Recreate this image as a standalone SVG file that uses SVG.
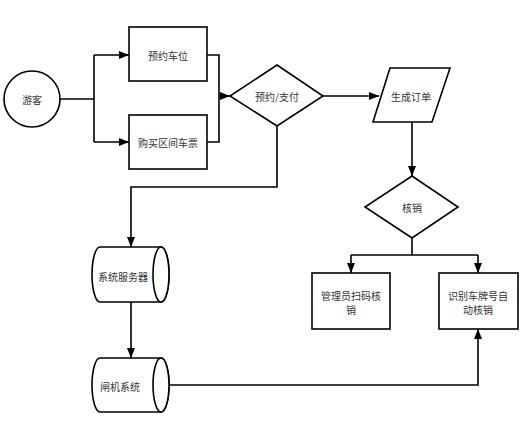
<svg xmlns="http://www.w3.org/2000/svg" width="529" height="443" viewBox="0 0 529 443">
<defs>
<marker id="arr" viewBox="0 0 10 8" refX="10" refY="4" markerWidth="10" markerHeight="8" markerUnits="userSpaceOnUse" orient="auto">
<path d="M0,0 L10,4 L0,8 Z" fill="#000"/>
</marker>
</defs>
<style>
.s{fill:#fff;stroke:#000;stroke-width:1.6}
.c{fill:none;stroke:#000;stroke-width:1.6}
text{font-family:"Noto Sans CJK SC","Noto Sans",sans-serif;font-size:10px;fill:#333;text-anchor:middle;dominant-baseline:central}
</style>
<rect width="529" height="443" fill="#fff"/>
<g id="connectors">
<path class="c" d="M60,99 H94"/>
<path class="c" d="M94,55 V142"/>
<path class="c" d="M94,55 H129" marker-end="url(#arr)"/>
<path class="c" d="M94,142 H129" marker-end="url(#arr)"/>
<path class="c" d="M207,55 H219 V142 H207"/>
<path class="c" d="M219,96 H230" marker-end="url(#arr)"/>
<path class="c" d="M323,96 H379" marker-end="url(#arr)"/>
<path class="c" d="M412,122 V176" marker-end="url(#arr)"/>
<path class="c" d="M412,238 V255"/>
<path class="c" d="M351,255 H478"/>
<path class="c" d="M351,255 V273" marker-end="url(#arr)"/>
<path class="c" d="M478,255 V273" marker-end="url(#arr)"/>
<path class="c" d="M277,126 V187 H131 V247" marker-end="url(#arr)"/>
<path class="c" d="M131,302 V358" marker-end="url(#arr)"/>
<path class="c" d="M169,385 H478 V329" marker-end="url(#arr)"/>
</g>
<g id="youke">
<circle class="s" cx="32" cy="99" r="28"/>
<text x="32" y="99">游客</text>
</g>
<g id="yuyue">
<rect class="s" x="129" y="27" width="78" height="54"/>
<text x="168" y="55">预约车位</text>
</g>
<g id="goumai">
<rect class="s" x="129" y="115" width="78" height="54"/>
<text x="168" y="142">购买区间车票</text>
</g>
<g id="zhifu">
<polygon class="s" points="277,65 323,96 277,126 230,96"/>
<text x="277" y="96">预约/支付</text>
</g>
<g id="dingdan">
<polygon class="s" points="390,68 450,68 432,122 373,122"/>
<text x="411" y="96">生成订单</text>
</g>
<g id="hexiao">
<polygon class="s" points="412,176 458,207 412,238 365,207"/>
<text x="412" y="207">核销</text>
</g>
<g id="guanli">
<rect class="s" x="312" y="273" width="78" height="56"/>
<text x="351" y="295">管理员扫码核</text>
<text x="351" y="309">销</text>
</g>
<g id="shibie">
<rect class="s" x="439" y="273" width="79" height="56"/>
<text x="478" y="295">识别车牌号自</text>
<text x="478" y="309">动核销</text>
</g>
<g id="fuwuqi">
<path class="s" d="M100,247 H161 A8,27.5 0 0 1 161,302 H100 A8,27.5 0 0 1 100,247 Z"/>
<ellipse class="s" cx="161" cy="274.5" rx="8" ry="27.5"/>
<text x="123" y="276">系统服务器</text>
</g>
<g id="zhaji">
<path class="s" d="M100,358 H161 A8,27 0 0 1 161,412 H100 A8,27 0 0 1 100,358 Z"/>
<ellipse class="s" cx="161" cy="385" rx="8" ry="27"/>
<text x="120" y="386">闸机系统</text>
</g>
</svg>
